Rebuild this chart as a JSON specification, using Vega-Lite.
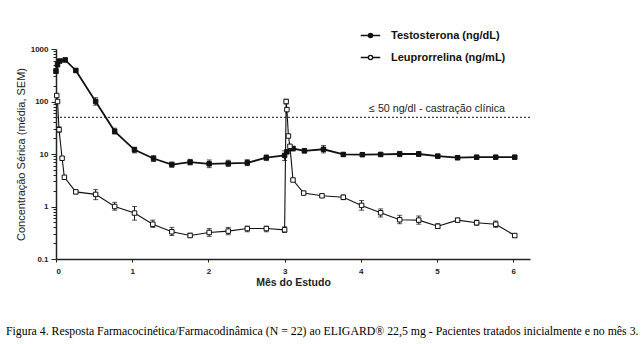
{
  "$schema": "https://vega.github.io/schema/vega-lite/v6.json",
  "width": 474,
  "height": 210,
  "autosize": {"type": "none"},
  "padding": {"left": 56, "top": 49, "right": 113, "bottom": 85},
  "background": "white",
  "config": {"view": {"stroke": null}, "font": "Liberation Sans"},
  "title": {
    "text": "Figura 4. Resposta Farmacocinética/Farmacodinâmica (N = 22) ao ELIGARD® 22,5 mg - Pacientes tratados inicialmente e no mês 3.",
    "orient": "bottom",
    "anchor": "start",
    "frame": "group",
    "dx": -50,
    "offset": 38,
    "font": "Liberation Serif",
    "fontSize": 11.8,
    "fontWeight": "normal",
    "color": "black"
  },
  "datasets": {
    "pk": [
      {"s": "Testosterona (ng/dL)", "m": 0.0, "v": 380, "lo": 340, "hi": 420},
      {"s": "Testosterona (ng/dL)", "m": 0.02, "v": 500},
      {"s": "Testosterona (ng/dL)", "m": 0.05, "v": 590},
      {"s": "Testosterona (ng/dL)", "m": 0.12, "v": 620, "lo": 570, "hi": 660},
      {"s": "Testosterona (ng/dL)", "m": 0.26, "v": 390, "lo": 360, "hi": 420},
      {"s": "Testosterona (ng/dL)", "m": 0.52, "v": 100, "lo": 85, "hi": 118},
      {"s": "Testosterona (ng/dL)", "m": 0.77, "v": 27, "lo": 24, "hi": 31},
      {"s": "Testosterona (ng/dL)", "m": 1.03, "v": 12, "lo": 10.5, "hi": 13.5},
      {"s": "Testosterona (ng/dL)", "m": 1.28, "v": 8.2, "lo": 7.2, "hi": 9.3},
      {"s": "Testosterona (ng/dL)", "m": 1.52, "v": 6.3, "lo": 5.6, "hi": 7},
      {"s": "Testosterona (ng/dL)", "m": 1.76, "v": 7, "lo": 6.2, "hi": 7.9},
      {"s": "Testosterona (ng/dL)", "m": 2.01, "v": 6.5, "lo": 5.5, "hi": 7.7},
      {"s": "Testosterona (ng/dL)", "m": 2.26, "v": 6.6, "lo": 5.8, "hi": 7.6},
      {"s": "Testosterona (ng/dL)", "m": 2.51, "v": 6.8, "lo": 6, "hi": 7.8},
      {"s": "Testosterona (ng/dL)", "m": 2.76, "v": 8.5, "lo": 7.5, "hi": 9.6},
      {"s": "Testosterona (ng/dL)", "m": 3.0, "v": 9.4, "lo": 7.5, "hi": 11.5},
      {"s": "Testosterona (ng/dL)", "m": 3.03, "v": 11},
      {"s": "Testosterona (ng/dL)", "m": 3.11, "v": 12.7, "lo": 11.5, "hi": 14},
      {"s": "Testosterona (ng/dL)", "m": 3.26, "v": 11.5, "lo": 10.5, "hi": 12.6},
      {"s": "Testosterona (ng/dL)", "m": 3.51, "v": 12.3, "lo": 10.5, "hi": 14.5},
      {"s": "Testosterona (ng/dL)", "m": 3.77, "v": 9.8, "lo": 9, "hi": 10.6},
      {"s": "Testosterona (ng/dL)", "m": 4.02, "v": 9.7, "lo": 9, "hi": 10.5},
      {"s": "Testosterona (ng/dL)", "m": 4.26, "v": 9.8, "lo": 9, "hi": 10.7},
      {"s": "Testosterona (ng/dL)", "m": 4.51, "v": 10, "lo": 8.9, "hi": 11.2},
      {"s": "Testosterona (ng/dL)", "m": 4.76, "v": 10, "lo": 9, "hi": 11.1},
      {"s": "Testosterona (ng/dL)", "m": 5.01, "v": 9.1, "lo": 8.4, "hi": 9.9},
      {"s": "Testosterona (ng/dL)", "m": 5.27, "v": 8.5, "lo": 7.8, "hi": 9.3},
      {"s": "Testosterona (ng/dL)", "m": 5.52, "v": 8.7, "lo": 8, "hi": 9.4},
      {"s": "Testosterona (ng/dL)", "m": 5.77, "v": 8.7, "lo": 8, "hi": 9.4},
      {"s": "Testosterona (ng/dL)", "m": 6.02, "v": 8.7, "lo": 8, "hi": 9.4},
      {"s": "Leuprorrelina (ng/mL)", "m": 0.01, "v": 130},
      {"s": "Leuprorrelina (ng/mL)", "m": 0.02, "v": 100},
      {"s": "Leuprorrelina (ng/mL)", "m": 0.04, "v": 29, "lo": 26, "hi": 33},
      {"s": "Leuprorrelina (ng/mL)", "m": 0.08, "v": 8.3},
      {"s": "Leuprorrelina (ng/mL)", "m": 0.11, "v": 3.6},
      {"s": "Leuprorrelina (ng/mL)", "m": 0.26, "v": 1.9, "lo": 1.75, "hi": 2.05},
      {"s": "Leuprorrelina (ng/mL)", "m": 0.52, "v": 1.7, "lo": 1.35, "hi": 2.1},
      {"s": "Leuprorrelina (ng/mL)", "m": 0.77, "v": 1.0, "lo": 0.85, "hi": 1.2},
      {"s": "Leuprorrelina (ng/mL)", "m": 1.03, "v": 0.75, "lo": 0.55, "hi": 1.0},
      {"s": "Leuprorrelina (ng/mL)", "m": 1.27, "v": 0.46, "lo": 0.4, "hi": 0.55},
      {"s": "Leuprorrelina (ng/mL)", "m": 1.52, "v": 0.33, "lo": 0.28, "hi": 0.4},
      {"s": "Leuprorrelina (ng/mL)", "m": 1.76, "v": 0.28, "lo": 0.26, "hi": 0.31},
      {"s": "Leuprorrelina (ng/mL)", "m": 2.01, "v": 0.32, "lo": 0.27, "hi": 0.38},
      {"s": "Leuprorrelina (ng/mL)", "m": 2.26, "v": 0.34, "lo": 0.29, "hi": 0.4},
      {"s": "Leuprorrelina (ng/mL)", "m": 2.51, "v": 0.38, "lo": 0.33, "hi": 0.42},
      {"s": "Leuprorrelina (ng/mL)", "m": 2.76, "v": 0.38, "lo": 0.33, "hi": 0.42},
      {"s": "Leuprorrelina (ng/mL)", "m": 3.0, "v": 0.36, "lo": 0.32, "hi": 0.41},
      {"s": "Leuprorrelina (ng/mL)", "m": 3.02, "v": 100, "lo": 90, "hi": 110},
      {"s": "Leuprorrelina (ng/mL)", "m": 3.03, "v": 70},
      {"s": "Leuprorrelina (ng/mL)", "m": 3.05, "v": 22},
      {"s": "Leuprorrelina (ng/mL)", "m": 3.07, "v": 14},
      {"s": "Leuprorrelina (ng/mL)", "m": 3.11, "v": 3.2},
      {"s": "Leuprorrelina (ng/mL)", "m": 3.25, "v": 1.8, "lo": 1.7, "hi": 1.95},
      {"s": "Leuprorrelina (ng/mL)", "m": 3.49, "v": 1.6, "lo": 1.5, "hi": 1.7},
      {"s": "Leuprorrelina (ng/mL)", "m": 3.77, "v": 1.5, "lo": 1.35, "hi": 1.65},
      {"s": "Leuprorrelina (ng/mL)", "m": 4.01, "v": 1.05, "lo": 0.85, "hi": 1.3},
      {"s": "Leuprorrelina (ng/mL)", "m": 4.26, "v": 0.76, "lo": 0.63, "hi": 0.9},
      {"s": "Leuprorrelina (ng/mL)", "m": 4.51, "v": 0.56, "lo": 0.47, "hi": 0.68},
      {"s": "Leuprorrelina (ng/mL)", "m": 4.76, "v": 0.55, "lo": 0.46, "hi": 0.66},
      {"s": "Leuprorrelina (ng/mL)", "m": 5.01, "v": 0.42, "lo": 0.38, "hi": 0.47},
      {"s": "Leuprorrelina (ng/mL)", "m": 5.27, "v": 0.55, "lo": 0.5, "hi": 0.6},
      {"s": "Leuprorrelina (ng/mL)", "m": 5.52, "v": 0.49, "lo": 0.44, "hi": 0.55},
      {"s": "Leuprorrelina (ng/mL)", "m": 5.77, "v": 0.46, "lo": 0.4, "hi": 0.53},
      {"s": "Leuprorrelina (ng/mL)", "m": 6.02, "v": 0.28, "lo": 0.26, "hi": 0.3}
    ],
    "ref": [
      {"limite": 50, "mx": 5.0, "my": 72, "rotulo": "≤ 50 ng/dl - castração clínica"}
    ]
  },
  "data": {"name": "pk"},
  "encoding": {
    "x": {
      "field": "m", "type": "quantitative",
      "scale": {"domain": [0, 6.22], "nice": false, "zero": false},
      "axis": {
        "title": "Mês do Estudo", "values": [0, 1, 2, 3, 4, 5, 6], "format": "d",
        "grid": false, "domainColor": "#222", "domainWidth": 1.5, "tickColor": "#222", "tickSize": 3,
        "labelFontSize": 8, "labelFontWeight": "bold", "labelColor": "#222", "labelPadding": 5,
        "titleFontSize": 10.5, "titleFontWeight": "bold", "titleColor": "#222", "titlePadding": 2
      }
    },
    "y": {
      "field": "v", "type": "quantitative",
      "scale": {"type": "log", "domain": [0.1, 1000], "nice": false},
      "axis": {
        "title": "Concentração Sérica (média, SEM)",
        "values": [0.1,0.2,0.3,0.4,0.5,0.6,0.7,0.8,0.9,1,2,3,4,5,6,7,8,9,10,20,30,40,50,60,70,80,90,100,200,300,400,500,600,700,800,900,1000],
        "labelExpr": "indexof(['0.1','1','10','100','1000'], format(datum.value, '~g')) >= 0 ? format(datum.value, '~g') : ''",
        "tickSize": {"condition": {"test": "indexof(['0.1','1','10','100','1000'], format(datum.value, '~g')) >= 0", "value": 5}, "value": 3},
        "grid": false, "domainColor": "#222", "domainWidth": 1.5, "tickColor": "#222",
        "labelFontSize": 8, "labelFontWeight": "bold", "labelColor": "#222", "labelPadding": 3,
        "titleFontSize": 11, "titleFontWeight": "normal", "titleColor": "#222", "titlePadding": 4
      }
    }
  },
  "layer": [
    {
      "data": {"name": "ref"},
      "mark": {"type": "rule", "strokeDash": [2, 2], "color": "#444", "strokeWidth": 1.2},
      "encoding": {"y": {"field": "limite", "type": "quantitative"}, "x": null}
    },
    {
      "data": {"name": "ref"},
      "mark": {"type": "text", "fontSize": 10.7, "color": "#222", "align": "center", "baseline": "middle"},
      "encoding": {"x": {"field": "mx", "type": "quantitative"}, "y": {"field": "my", "type": "quantitative"}, "text": {"field": "rotulo"}}
    },
    {
      "transform": [{"filter": "datum.s === 'Testosterona (ng/dL)'"}],
      "mark": {"type": "line", "color": "#111", "strokeWidth": 1.8},
      "encoding": {}
    },
    {
      "transform": [{"filter": "datum.s === 'Leuprorrelina (ng/mL)'"}],
      "mark": {"type": "line", "color": "#111", "strokeWidth": 1.1},
      "encoding": {}
    },
    {
      "transform": [{"filter": "isValid(datum.lo)"}],
      "mark": {"type": "errorbar", "ticks": {"size": 5, "color": "#111"}, "color": "#111"},
      "encoding": {
        "y": {"field": "lo", "type": "quantitative", "title": "Concentração Sérica (média, SEM)"},
        "y2": {"field": "hi"}
      }
    },
    {
      "mark": {"type": "point", "shape": "square", "size": 20, "stroke": "#111", "strokeWidth": 1, "opacity": 1},
      "encoding": {
        "fill": {
          "field": "s", "type": "nominal",
          "scale": {"domain": ["Testosterona (ng/dL)", "Leuprorrelina (ng/mL)"], "range": ["#111", "white"]},
          "legend": {
            "title": null, "orient": "none", "legendX": 304, "legendY": -24,
            "symbolType": "M-1,0L-0.22,0M0.22,0L1,0M-0.22,0A0.22,0.22,0,1,1,0.22,0A0.22,0.22,0,1,1,-0.22,0Z",
            "symbolSize": 380, "symbolStrokeColor": "#111", "symbolStrokeWidth": 1.3,
            "labelFont": "Liberation Sans", "labelFontSize": 11, "labelFontWeight": "bold", "labelColor": "#111",
            "rowPadding": 6, "labelOffset": 10
          }
        }
      }
    }
  ]
}
